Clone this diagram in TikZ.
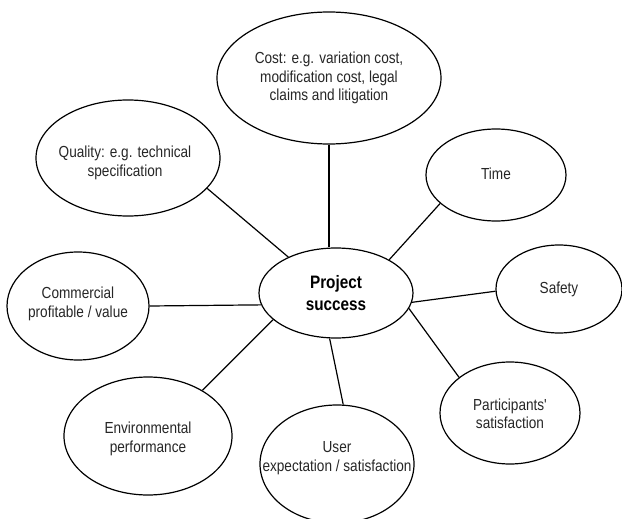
\documentclass[tikz,border=0pt]{standalone}
\usepackage{fontspec}
\setmainfont{Liberation Sans}
\newfontfamily\narrowsans[FakeStretch=0.85]{Liberation Sans}
\usetikzlibrary{shapes.geometric}
\tikzset{
  bubble/.style = {ellipse, draw=black, line width=1.2pt, inner sep=0pt},% ellipse only
  btext/.style = {align=center, inner sep=0pt, text=black!85,
    font=\narrowsans\fontsize{16}{18.5}\selectfont},% label inside a bubble
  ptext/.style = {align=center, inner sep=0pt,
    font=\narrowsans\fontsize{18}{21.5}\selectfont\bfseries}% centre label
}
\begin{document}
\begin{tikzpicture}[x=1pt,y=-1pt,line width=1.2pt]
\useasboundingbox (0,0) rectangle (622,519);
% bubbles
\node [bubble, minimum width=154pt, minimum height=90pt] (ps) at (336,293) {};
\node [bubble, minimum width=224pt, minimum height=132pt] (cost) at (329,78) {};
\node [bubble, minimum width=184pt, minimum height=116pt] (quality) at (128,158) {};
\node [bubble, minimum width=140pt, minimum height=92pt] (time) at (496,175) {};
\node [bubble, minimum width=142pt, minimum height=108pt] (com) at (78,306) {};
\node [bubble, minimum width=126pt, minimum height=88pt] (safety) at (559,289) {};
\node [bubble, minimum width=140pt, minimum height=102pt] (part) at (510,413) {};
\node [bubble, minimum width=154pt, minimum height=118pt] (user) at (337,464) {};
\node [bubble, minimum width=168pt, minimum height=118pt] (env) at (148,436) {};
% labels
\node [ptext] (ps-t) at (336,293) {Project\\success};
\node [btext] (cost-t) at (329,78) {Cost: e.g. variation cost,\\modification cost, legal\\claims and litigation};
\node [btext] (quality-t) at (125,163) {Quality: e.g. technical\\specification};
\node [btext] (time-t) at (496,174) {Time};
\node [btext] (com-t) at (78,304) {Commercial\\profitable / value};
\node [btext] (safety-t) at (559,289) {Safety};
\node [btext] (part-t) at (510,414) {Participants'\\satisfaction};
\node [btext] (user-t) at (337,458) {User\\expectation / satisfaction};
\node [btext] (env-t) at (148,439) {Environmental\\performance};
% connectors
\draw (cost.south) -- (cost.south |- ps.north);
\draw (time.207) -- (ps.32);
\draw (quality.339) -- (ps.143);
\draw (com.east) -- (ps.189);
\draw (env.40) -- (ps.203);
\draw (user.84) -- (ps.262);
\draw (safety.182) -- (ps.353);
\draw (part.145) -- (ps.348);
\end{tikzpicture}
\end{document}
